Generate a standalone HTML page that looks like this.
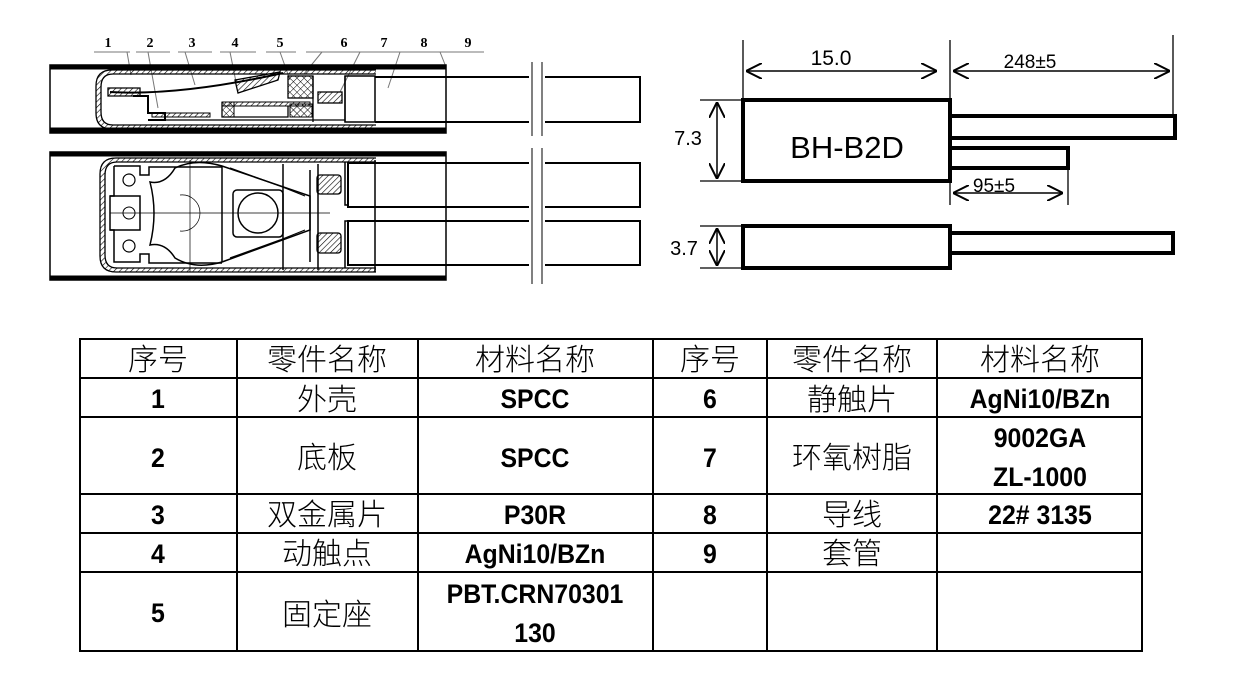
<!DOCTYPE html>
<html><head><meta charset="utf-8"><style>
html,body{margin:0;padding:0;background:#fff;}
svg{display:block;}
.cj{font-family:"Liberation Sans","Noto Sans CJK SC",sans-serif;font-weight:300;}
.lt{font-family:"Liberation Sans","Noto Sans CJK SC",sans-serif;}
</style></head><body>
<svg width="1235" height="686" viewBox="0 0 1235 686" xmlns="http://www.w3.org/2000/svg">
<defs>
<pattern id="h" width="4" height="4" patternUnits="userSpaceOnUse" patternTransform="rotate(45)"><line x1="0" y1="0" x2="0" y2="4" stroke="#000" stroke-width="1.2"/></pattern>
<pattern id="x" width="5" height="5" patternUnits="userSpaceOnUse" patternTransform="rotate(45)"><path d="M0 0V5M0 0H5" stroke="#000" stroke-width="1"/></pattern>
<marker id="b" viewBox="0 0 16 16" refX="16" refY="8" markerWidth="16" markerHeight="16" orient="auto-start-reverse" markerUnits="userSpaceOnUse"><path d="M0 0L16 8L0 16" fill="none" stroke="#000" stroke-width="2"/></marker>
</defs>

<g stroke="#000" fill="none">
<g font-family="Liberation Serif, serif" font-size="14" font-weight="bold" fill="#000" stroke="none" text-anchor="middle">
<text x="108" y="47">1</text><text x="150" y="47">2</text><text x="192" y="47">3</text><text x="235" y="47">4</text><text x="280" y="47">5</text><text x="344" y="47">6</text><text x="384" y="47">7</text><text x="424" y="47">8</text><text x="468" y="47">9</text>
</g>
<g stroke="#777" stroke-width="1">
<path d="M94 52H130M136 52H170M178 52H212M220 52H256M266 52H296M306 52H360M360 52H400M400 52H440M440 52H484"/>
<path d="M127 52L131 75M148 52L158 108M185 52L195 85M230 52L236 82M280 52L290 80M322 52L304 74M360 52L340 92M400 52L388 88M440 52L446 67"/>
</g>
<rect x="50" y="65" width="396" height="68" stroke-width="1.5"/>
<rect x="50" y="65" width="396" height="4" fill="#000"/>
<rect x="50" y="128" width="396" height="5" fill="#000"/>
<path d="M376 72H112Q98 72 98 86V113Q98 127 112 127H376" stroke-width="5" stroke="url(#h)"/>
<path d="M376 70H112Q96 70 96 86V113Q96 129 112 129H376M376 74H113Q101 74 101 87V112Q101 125 113 125H376" stroke-width="1.3"/>
<path d="M110 92Q180 96 283 73" stroke-width="2"/>
<path d="M108 88H140V96H108Z" fill="url(#h)" stroke-width="1.3"/>
<path d="M133 96H148V113H165V120H148" stroke-width="2"/>
<path d="M152 113H210V117H152Z" fill="url(#h)" stroke-width="1"/>
<path d="M235 80L280 72L278 80L238 93Z" fill="url(#h)" stroke-width="1.3"/>
<path d="M222 102H310V106H222Z" fill="url(#h)" stroke-width="1"/>
<path d="M222 102V117H288V106" stroke-width="1.3"/>
<rect x="222" y="102" width="12" height="15" fill="url(#x)" stroke-width="1"/>
<rect x="288" y="76" width="25" height="22" fill="url(#x)" stroke-width="1.3"/>
<rect x="290" y="104" width="22" height="13" fill="url(#x)" stroke-width="1"/>
<rect x="318" y="92" width="24" height="11" fill="url(#h)" stroke-width="1.3"/>
<path d="M148 120H345M313 76V122M345 76V122" stroke-width="1.3"/>
<rect x="345" y="76" width="30" height="46" stroke-width="1.5"/>
<path d="M375 77H640V122H375" stroke-width="2"/>
<rect x="529" y="74" width="16" height="50" fill="#fff" stroke="none"/>
<path d="M532 62V136M542 62V136" stroke-width="1"/>
</g>

<g stroke="#000" fill="none">
<rect x="50" y="152" width="396" height="128" stroke-width="1.5"/>
<rect x="50" y="152" width="396" height="4" fill="#000"/>
<rect x="50" y="276" width="396" height="4" fill="#000"/>
<path d="M376 160H116Q102 160 102 174V256Q102 270 116 270H376" stroke-width="5" stroke="url(#h)"/>
<path d="M376 158H116Q100 158 100 174V256Q100 272 116 272H376M376 162H117Q105 162 105 175V255Q105 268 117 268H376" stroke-width="1.3"/>
<path d="M114 166H140V175H149V167H222M114 166V196H110V230H114V262H140V254H149V263H222" stroke-width="1.5"/>
<circle cx="129" cy="180" r="6" stroke-width="1.2"/>
<circle cx="129" cy="246" r="6" stroke-width="1.2"/>
<circle cx="129" cy="213" r="6" stroke-width="1"/>
<path d="M110 196H140V230H110" stroke-width="1.5"/>
<path d="M150 182Q165 185 175 168Q195 158 222 166L310 196L310 230L222 262Q195 270 175 258Q165 242 150 245Q158 213 150 182Z" stroke-width="1.5"/>
<path d="M230 168L280 186L305 196M230 258L280 240L305 230" stroke-width="1.2"/>
<path d="M222 166V262M283 164V270M310 170V262M318 164V270" stroke-width="1.5"/>
<rect x="233" y="190" width="50" height="47" rx="4" stroke-width="1.5"/>
<circle cx="258" cy="213" r="20" stroke-width="1.5"/>
<path d="M110 213H330M190 160V272" stroke-width="0.7"/>
<path d="M180 195A18 18 0 0 1 200 213A18 18 0 0 1 180 231" stroke-width="0.7"/>
<rect x="317" y="175" width="24" height="19" rx="3" fill="url(#h)" stroke-width="1.3"/>
<rect x="317" y="233" width="24" height="20" rx="3" fill="url(#h)" stroke-width="1.3"/>
<path d="M345 162V205H348M345 268V221H348" stroke-width="1.5"/>
<path d="M348 163H640V207H348Z" stroke-width="2"/>
<path d="M348 221H640V265H348Z" stroke-width="2"/>
<path d="M375 160V272" stroke-width="1.5"/>
<rect x="529" y="160" width="16" height="112" fill="#fff" stroke="none"/>
<path d="M532 148V284M542 148V284" stroke-width="1"/>
</g>

<g stroke="#000" fill="none">
<rect x="743" y="100" width="207" height="81" stroke-width="4"/>
<path d="M950 116H1175V138H950" stroke-width="4"/>
<path d="M950 148H1068V168H950" stroke-width="4"/>
<rect x="743" y="226" width="207" height="42" stroke-width="4"/>
<path d="M950 233H1173V253H950" stroke-width="4"/>
<path d="M743 40V100M950 40V205M1173 35V116M1068 168V205" stroke-width="1.3"/>
<path d="M746 71H937" stroke-width="1.5" marker-start="url(#b)" marker-end="url(#b)"/>
<path d="M953 71H1170" stroke-width="1.5" marker-start="url(#b)" marker-end="url(#b)"/>
<path d="M953 193H1063" stroke-width="1.5" marker-start="url(#b)" marker-end="url(#b)"/>
<path d="M700 100H743M700 181H743M700 226H743M700 268H743" stroke-width="1.3"/>
<path d="M717 102V179" stroke-width="1.5" marker-start="url(#b)" marker-end="url(#b)"/>
<path d="M717 228V266" stroke-width="1.5" marker-start="url(#b)" marker-end="url(#b)"/>
</g>
<g class="lt" fill="#000">
<text x="831" y="65" font-size="21" text-anchor="middle">15.0</text>
<text x="1030" y="68" font-size="19" text-anchor="middle">248±5</text>
<text x="847" y="158" font-size="31" text-anchor="middle">BH-B2D</text>
<text x="688" y="145" font-size="20" text-anchor="middle">7.3</text>
<text x="994" y="192" font-size="19" text-anchor="middle">95±5</text>
<text x="684" y="255" font-size="20" text-anchor="middle">3.7</text>
</g>

<g stroke="#000" stroke-width="2" fill="none">
<rect x="80" y="339" width="1062" height="312"/>
<path d="M80 378H1142M80 417H1142M80 494H1142M80 533H1142M80 572H1142"/>
<path d="M237 339V651M418 339V651M653 339V651M767 339V651M937 339V651"/>
</g>
<g text-anchor="middle" fill="#000">
<g class="cj" font-size="30">
<text x="158" y="370">序号</text><text x="327" y="370">零件名称</text><text x="535" y="370">材料名称</text>
<text x="710" y="370">序号</text><text x="852" y="370">零件名称</text><text x="1040" y="370">材料名称</text>
<text x="327" y="410">外壳</text><text x="327" y="468">底板</text><text x="327" y="525">双金属片</text><text x="327" y="564">动触点</text><text x="327" y="625">固定座</text>
<text x="852" y="410">静触片</text><text x="852" y="468">环氧树脂</text><text x="852" y="525">导线</text><text x="852" y="564">套管</text>
</g>
<g class="lt" font-size="27" font-weight="bold" transform="scale(0.92,1)">
<g transform="translate(0,0)">
<text x="171.7" y="408">1</text><text x="171.7" y="467">2</text><text x="171.7" y="524">3</text><text x="171.7" y="563">4</text><text x="171.7" y="622">5</text>
<text x="581.5" y="408">SPCC</text><text x="581.5" y="467">SPCC</text><text x="581.5" y="524">P30R</text><text x="581.5" y="563">AgNi10/BZn</text>
<text x="581.5" y="603">PBT.CRN70301</text><text x="581.5" y="642">130</text>
<text x="771.7" y="408">6</text><text x="771.7" y="467">7</text><text x="771.7" y="524">8</text><text x="771.7" y="563">9</text>
<text x="1130.4" y="408">AgNi10/BZn</text><text x="1130.4" y="447">9002GA</text><text x="1130.4" y="486">ZL-1000</text><text x="1130.4" y="524">22# 3135</text>
</g>
</g>
</g>
</svg>
</body></html>
